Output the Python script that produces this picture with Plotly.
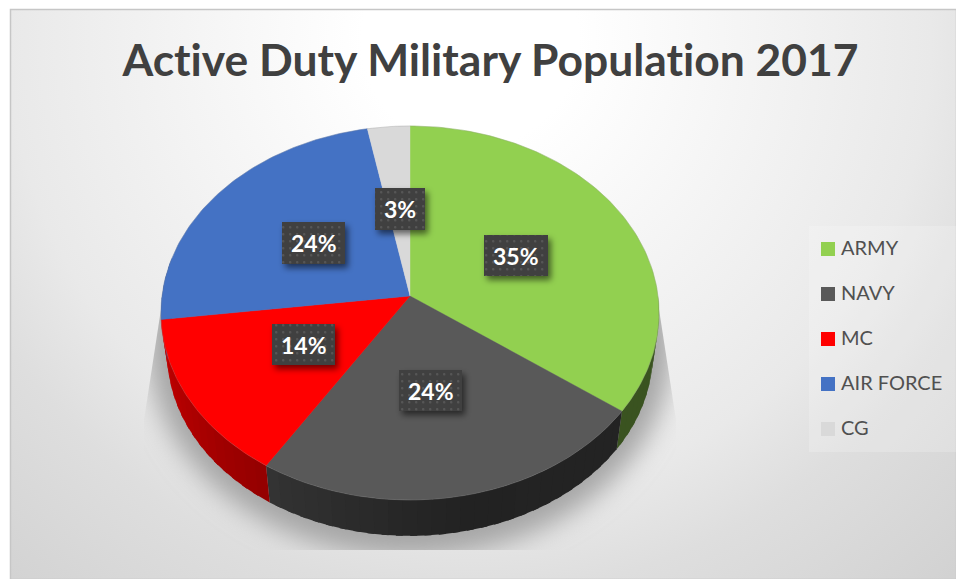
import base64
import numpy as np
import plotly.graph_objects as go

# Active duty population share by branch, percent
branches = ["ARMY", "NAVY", "MC", "AIR FORCE", "CG"]
shares = [35, 24, 14, 24, 3]
top_colors = ["#92d050", "#595959", "#ff0000", "#4472c4", "#d9d9d9"]
chart_title = "Active Duty Military Population 2017"

W, H = 956, 579

# Tilted-disc projection, in screen pixels
CX, CY = 410, 296
RX, RY = 248, 185.5
PERSP = 0.0909
DEPTH_SCALE, DEPTH_SHIFT = 0.975, 41

# Label chips: left, top, right, bottom
label_boxes = [(484, 235, 548, 276), (399, 370, 462, 411), (272, 324, 335, 365),
               (282, 222, 345, 264), (375, 188, 425, 230)]

# Key column on the right
KEY_X, KEY_TEXT_X, KEY_TOP, KEY_STEP = 828, 841, 249, 45


def rim(theta_deg):
    t = np.radians(np.asarray(theta_deg, dtype=float))
    sx, sy = np.sin(t), np.cos(t)
    w = 1 + PERSP * sy
    return CX + RX * sx / w, CY - RY * sy / w


def lower(x, y):
    return CX + DEPTH_SCALE * (x - CX), CY + DEPTH_SCALE * (y - CY) + DEPTH_SHIFT


def side_shade(color, theta):
    factor = np.interp(theta, [126, 170, 212, 270], [0.40, 0.39, 0.58, 0.80])
    rgb = [int(color[i:i + 2], 16) for i in (1, 3, 5)]
    return "rgb(%d,%d,%d)" % tuple(int(c * factor) for c in rgb)


def data_uri(svg):
    return "data:image/svg+xml;base64," + base64.b64encode(svg.encode()).decode()


backdrop = f"""<svg xmlns='http://www.w3.org/2000/svg' width='{W}' height='{H}' viewBox='0 0 {W} {H}'>
<defs>
<radialGradient id='bg' gradientUnits='userSpaceOnUse' cx='470' cy='40' r='720'>
<stop offset='0.15' stop-color='#ffffff'/><stop offset='0.64' stop-color='#e9e9e9'/>
<stop offset='0.77' stop-color='#dedede'/><stop offset='1' stop-color='#d2d2d2'/>
</radialGradient>
<filter id='soft' x='-20%' y='-20%' width='140%' height='140%'><feGaussianBlur stdDeviation='13'/></filter>
<clipPath id='cast'><polygon points='163,296 657,296 676,420 676,550 144,550 144,420'/></clipPath>
</defs>
<rect width='{W}' height='{H}' fill='#ffffff'/>
<rect x='10.5' y='9.5' width='946' height='570' fill='url(#bg)' stroke='#c6c6c6' stroke-width='1.5'/>
<g clip-path='url(#cast)'><ellipse cx='410' cy='345' rx='262' ry='212' fill='#a6a6a6' filter='url(#soft)'/></g>
<rect x='809' y='226' width='147' height='226' fill='#ffffff' fill-opacity='0.2'/>
</svg>"""

chips = "".join(
    f"<rect x='{a}' y='{b}' width='{c - a}' height='{d - b}' fill='#000' fill-opacity='0.55' "
    f"transform='translate(3 4)' filter='url(#chipshadow)'/>"
    f"<rect x='{a}' y='{b}' width='{c - a}' height='{d - b}' fill='#404040'/>"
    f"<rect x='{a}' y='{b}' width='{c - a}' height='{d - b}' fill='url(#dots)'/>"
    for a, b, c, d in label_boxes
)
chip_layer = f"""<svg xmlns='http://www.w3.org/2000/svg' width='{W}' height='{H}' viewBox='0 0 {W} {H}'>
<defs>
<filter id='chipshadow' x='-30%' y='-30%' width='160%' height='160%'><feGaussianBlur stdDeviation='3'/></filter>
<pattern id='dots' patternUnits='userSpaceOnUse' width='7' height='7'><rect x='2' y='2' width='2.4' height='2.4' rx='1' fill='#565656'/></pattern>
</defs>{chips}</svg>"""

fig = go.Figure()

edges = 3.6 * np.concatenate([[0], np.cumsum(shares)])

# Visible wall of the disc: short strips, each overlapping the next so no seams show
for start, end, color in zip(edges[:-1], edges[1:], top_colors):
    lo, hi = max(start, 90), min(end, 282)
    if lo >= hi:
        continue
    steps = np.linspace(lo, hi, max(2, int((hi - lo) / 3) + 1))
    for a, b in zip(steps[:-1], steps[1:]):
        arc = np.linspace(a, min(b + 1.5, hi), 5)
        x, y = rim(arc)
        xl, yl = lower(x, y)
        fig.add_trace(go.Scatter(
            x=np.concatenate([x, xl[::-1]]), y=np.concatenate([y, yl[::-1]]),
            mode="lines", fill="toself", fillcolor=side_shade(color, (a + b) / 2),
            line=dict(width=0), showlegend=False, hoverinfo="skip"))

# Top face of every slice
for name, start, end, color in zip(branches, edges[:-1], edges[1:], top_colors):
    x, y = rim(np.linspace(start, end, max(8, int(end - start))))
    fig.add_trace(go.Scatter(
        x=np.concatenate([[CX], x, [CX]]), y=np.concatenate([[CY], y, [CY]]),
        mode="lines", fill="toself", fillcolor=color,
        line=dict(color=color, width=0.4), name=name, showlegend=False, hoverinfo="name"))

# Fine edge around the disc
x, y = rim(np.linspace(0, 360, 361))
fig.add_trace(go.Scatter(x=x, y=y, mode="lines", line=dict(color="rgba(130,130,130,0.35)", width=0.7),
                         showlegend=False, hoverinfo="skip"))

# Key swatches
key_y = [KEY_TOP + KEY_STEP * i for i in range(len(branches))]
fig.add_trace(go.Scatter(x=[KEY_X] * len(branches), y=key_y, mode="markers", showlegend=False,
                         hoverinfo="skip", marker=dict(symbol="square", size=14, color=top_colors)))

annotations = [
    dict(x=(a + c) / 2, y=(b + d) / 2, xref="x", yref="y", text=f"<b>{v}%</b>", showarrow=False,
         font=dict(family="Lato", size=23, color="#ffffff"))
    for v, (a, b, c, d) in zip(shares, label_boxes)
] + [
    dict(x=KEY_TEXT_X, y=ky, xref="x", yref="y", xanchor="left", text=name, showarrow=False,
         xshift=-2, yshift=2, font=dict(family="Lato", size=20, color="#505050"))
    for name, ky in zip(branches, key_y)
]

fig.update_layout(
    width=W, height=H, autosize=False, showlegend=False,
    margin=dict(l=0, r=0, t=0, b=0, pad=0),
    paper_bgcolor="#ffffff", plot_bgcolor="rgba(0,0,0,0)",
    xaxis=dict(range=[0, W], visible=False, fixedrange=True),
    yaxis=dict(range=[H, 0], visible=False, fixedrange=True),
    title=dict(text=f"<b>{chart_title}</b>", x=490.5 / W, xanchor="center", y=1 - 60 / H, yanchor="middle",
               font=dict(family="Lato", size=44.4, color="#404040")),
    annotations=annotations,
    images=[
        dict(source=data_uri(backdrop), xref="paper", yref="paper", x=0, y=1, sizex=1, sizey=1,
             xanchor="left", yanchor="top", sizing="stretch", layer="below"),
        dict(source=data_uri(chip_layer), xref="paper", yref="paper", x=0, y=1, sizex=1, sizey=1,
             xanchor="left", yanchor="top", sizing="stretch", layer="above"),
    ],
)

# Plain letter forms: no joined "ti" glyphs
no_ligatures = "document.querySelectorAll('text').forEach(function(t){t.style.fontVariantLigatures='none';});"
fig.write_html("out.html", config={"displayModeBar": False}, post_script=no_ligatures)
